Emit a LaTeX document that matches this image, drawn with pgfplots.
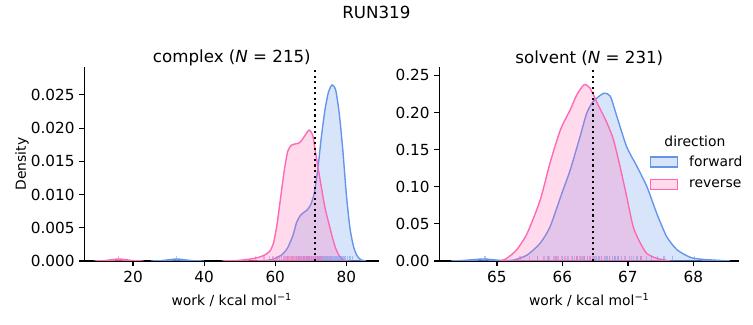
\documentclass[border=0pt]{standalone}
\usepackage{pgfplots}
\pgfplotsset{compat=1.18}
\usepackage{fontspec}
\setmainfont{DejaVu Sans}
\definecolor{fwd}{RGB}{100,149,237}
\definecolor{rev}{RGB}{255,105,180}
\pgfplotsset{
 kdeax/.style={
  scale only axis,
  axis x line*=bottom, axis y line*=left,
  axis line style={line width=0.8bp, -},
  every tick/.style={line width=0.8bp, black},
  tick align=outside, major tick length=3.5bp,
  ymin=0,
  font=\fontsize{10bp}{12bp}\selectfont,
  ticklabel style={font=\fontsize{11bp}{13bp}\selectfont},
  /pgf/number format/assume math mode=true,
  xlabel={work / kcal mol\textsuperscript{−1}},
  every axis x label/.style={at={(axis description cs:0.5,-0.201)}, anchor=center},
  every axis y label/.style={at={(axis description cs:-0.211,0.5)}, anchor=center, rotate=90},
  every axis title/.style={font=\fontsize{12bp}{14bp}\selectfont, at={(axis description cs:0.5,1)}, anchor=south, inner sep=0pt, yshift=0.8bp},
  scaled y ticks=false,
 },
 kdef/.style={smooth, tension=0.4, line width=1bp, draw=fwd, fill=fwd, fill opacity=0.25,
   legend image code/.code={\draw[##1] (0bp,-3.6bp) rectangle (19.4bp,3.6bp); \path[draw=none,fill=none] (19.4bp,0) -- (26bp,0);}},
 kder/.style={smooth, tension=0.4, line width=1bp, draw=rev, fill=rev, fill opacity=0.25,
   legend image code/.code={\draw[##1] (0bp,-3.6bp) rectangle (19.4bp,3.6bp); \path[draw=none,fill=none] (19.4bp,0) -- (26bp,0);}},
 rugf/.style={ycomb, no marks, draw=fwd, draw opacity=0.5, line width=1bp, forget plot},
 rugr/.style={ycomb, no marks, draw=rev, draw opacity=0.5, line width=1bp, forget plot},
}
\begin{document}
\begin{tikzpicture}
\useasboundingbox (0,0) rectangle (542.16bp,234bp);
\node[font=\fontsize{12bp}{14bp}\selectfont] at (271bp,225bp) {RUN319};
% ---------- complex ----------
\begin{axis}[kdeax,
  at={(60.7bp,46.08bp)}, anchor=south west, width=212.5bp, height=139.7bp,
  xmin=6.3, xmax=89.3, ymax=0.0292,
  xtick={20,40,60,80},
  ytick={0,0.005,0.01,0.015,0.02,0.025},
  yticklabel style={/pgf/number format/.cd, fixed, fixed zerofill, precision=3},
  ylabel={Density},
  title={complex (\textit{N} = 215)},
]
\addplot[kdef, forget plot] coordinates {(25,0) (28,0.00005) (30,0.00018) (32.3,0.0003) (34.5,0.00018) (37,0.00004) (40,0)} \closedcycle;
\addplot[kdef, forget plot] coordinates {(55,0) (58,0.0001) (60,0.0004) (62,0.0010) (63.5,0.0020) (65,0.0039) (66,0.0058) (67,0.0068) (68,0.0073) (69,0.0077) (70,0.0085) (71,0.0103) (72,0.0140) (73,0.0188) (74,0.0228) (75,0.0255) (76,0.0265) (77,0.0257) (78,0.0222) (79,0.0167) (80,0.0100) (81,0.0050) (82,0.0022) (83,0.0008) (84,0.0002) (85.5,0)} \closedcycle;
\addplot[kder, forget plot] coordinates {(9,0) (12,0.00005) (14,0.0002) (15.9,0.0003) (18,0.0002) (20,0.00005) (23,0)} \closedcycle;
\addplot[kder, forget plot] coordinates {(45,0) (50,0.0001) (53,0.0003) (55,0.0005) (57,0.0009) (58.5,0.0015) (59.5,0.0027) (60.5,0.0055) (61.5,0.0095) (62.5,0.0135) (63.5,0.0165) (64.5,0.0174) (65.5,0.0176) (66.5,0.0177) (67.5,0.0182) (68.5,0.0190) (69.5,0.0197) (70.5,0.0190) (71.3,0.0165) (72,0.0142) (73,0.0110) (74,0.0080) (75,0.0058) (76,0.0037) (77,0.0019) (78,0.0008) (79,0.0002) (80.5,0)} \closedcycle;
\addplot[rugf] coordinates {(32.3,0.00073) (63.5,0.00073) (64.8,0.00073) (65.9,0.00073) (66.7,0.00073) (67.4,0.00073) (68.1,0.00073) (68.9,0.00073) (69.5,0.00073) (70.2,0.00073) (70.8,0.00073) (71.5,0.00073) (72.0,0.00073) (72.6,0.00073) (73.1,0.00073) (73.5,0.00073) (73.9,0.00073) (74.3,0.00073) (74.6,0.00073) (74.9,0.00073) (75.2,0.00073) (75.5,0.00073) (75.8,0.00073) (76.0,0.00073) (76.3,0.00073) (76.5,0.00073) (76.8,0.00073) (77.0,0.00073) (77.3,0.00073) (77.6,0.00073) (77.9,0.00073) (78.2,0.00073) (78.5,0.00073) (78.9,0.00073) (79.3,0.00073) (79.8,0.00073) (80.4,0.00073) (81.0,0.00073) (81.7,0.00073)};
\addplot[rugr] coordinates {(15.9,0.00073) (54.5,0.00073) (56.8,0.00073) (58.3,0.00073) (59.4,0.00073) (60.5,0.00073) (61.2,0.00073) (61.8,0.00073) (62.3,0.00073) (62.7,0.00073) (63.1,0.00073) (63.5,0.00073) (63.9,0.00073) (64.3,0.00073) (64.6,0.00073) (65.0,0.00073) (65.4,0.00073) (65.8,0.00073) (66.2,0.00073) (66.6,0.00073) (67.0,0.00073) (67.4,0.00073) (67.8,0.00073) (68.2,0.00073) (68.5,0.00073) (68.9,0.00073) (69.2,0.00073) (69.5,0.00073) (69.8,0.00073) (70.1,0.00073) (70.5,0.00073) (70.9,0.00073) (71.3,0.00073) (71.8,0.00073) (72.3,0.00073) (72.9,0.00073) (73.6,0.00073) (74.4,0.00073) (75.5,0.00073)};
\addplot[black, line width=1.5bp, dash pattern=on 1.5bp off 2.5bp, forget plot] coordinates {(71.3,0) (71.3,0.0292)};
\end{axis}
% ---------- solvent ----------
\begin{axis}[kdeax,
  at={(316.3bp,46.08bp)}, anchor=south west, width=216bp, height=139.7bp,
  xmin=64.12, xmax=68.7, ymax=0.2614,
  xtick={65,66,67,68},
  ytick={0,0.05,0.1,0.15,0.2,0.25},
  yticklabel style={/pgf/number format/.cd, fixed, fixed zerofill, precision=2},
  title={solvent (\textit{N} = 231)},
  legend style={at={(rel axis cs:0.70,0.456)}, anchor=west, draw=none, fill=none, inner sep=0pt, row sep=4bp, font=\fontsize{10bp}{12bp}\selectfont, cells={anchor=west}},
]
\addplot[kdef] coordinates {(64.3,0) (64.5,0.0008) (64.8,0.0027) (65.05,0.0008) (65.25,0.0012) (65.46,0.008) (65.66,0.024) (65.81,0.046) (65.99,0.091) (66.12,0.123) (66.27,0.168) (66.37,0.199) (66.47,0.215) (66.63,0.226) (66.73,0.222) (66.83,0.195) (66.98,0.154) (67.14,0.127) (67.29,0.100) (67.44,0.064) (67.59,0.033) (67.75,0.015) (67.95,0.005) (68.1,0.0025) (68.3,0.0013) (68.56,0)} \closedcycle;
\addlegendentry{forward}
\addplot[kder] coordinates {(65.05,0) (65.15,0.0036) (65.3,0.015) (65.46,0.037) (65.66,0.082) (65.81,0.132) (65.97,0.177) (66.12,0.204) (66.22,0.224) (66.33,0.2375) (66.42,0.233) (66.53,0.213) (66.68,0.186) (66.78,0.163) (66.88,0.127) (66.98,0.087) (67.08,0.046) (67.19,0.024) (67.29,0.010) (67.44,0.0036) (67.64,0)} \closedcycle;
\addlegendentry{reverse}
\addplot[rugf] coordinates {(64.82,0.0065) (65.62,0.0065) (65.78,0.0065) (65.9,0.0065) (66.0,0.0065) (66.08,0.0065) (66.15,0.0065) (66.22,0.0065) (66.28,0.0065) (66.33,0.0065) (66.38,0.0065) (66.43,0.0065) (66.48,0.0065) (66.52,0.0065) (66.56,0.0065) (66.6,0.0065) (66.64,0.0065) (66.68,0.0065) (66.72,0.0065) (66.76,0.0065) (66.8,0.0065) (66.85,0.0065) (66.9,0.0065) (66.96,0.0065) (67.02,0.0065) (67.08,0.0065) (67.14,0.0065) (67.2,0.0065) (67.28,0.0065) (67.36,0.0065) (67.45,0.0065) (67.55,0.0065) (67.68,0.0065) (68.02,0.0065)};
\addplot[rugr] coordinates {(65.35,0.0065) (65.5,0.0065) (65.62,0.0065) (65.72,0.0065) (65.8,0.0065) (65.87,0.0065) (65.93,0.0065) (65.99,0.0065) (66.04,0.0065) (66.09,0.0065) (66.14,0.0065) (66.18,0.0065) (66.22,0.0065) (66.26,0.0065) (66.3,0.0065) (66.34,0.0065) (66.38,0.0065) (66.42,0.0065) (66.46,0.0065) (66.5,0.0065) (66.55,0.0065) (66.6,0.0065) (66.66,0.0065) (66.72,0.0065) (66.79,0.0065) (66.86,0.0065) (66.95,0.0065) (67.05,0.0065) (67.2,0.0065)};
\addplot[black, line width=1.5bp, dash pattern=on 1.5bp off 2.5bp, forget plot] coordinates {(66.46,0) (66.46,0.2614)};
\node[font=\fontsize{10bp}{12bp}\selectfont] at (rel axis cs:0.852,0.619) {direction};
\end{axis}
\end{tikzpicture}
\end{document}
